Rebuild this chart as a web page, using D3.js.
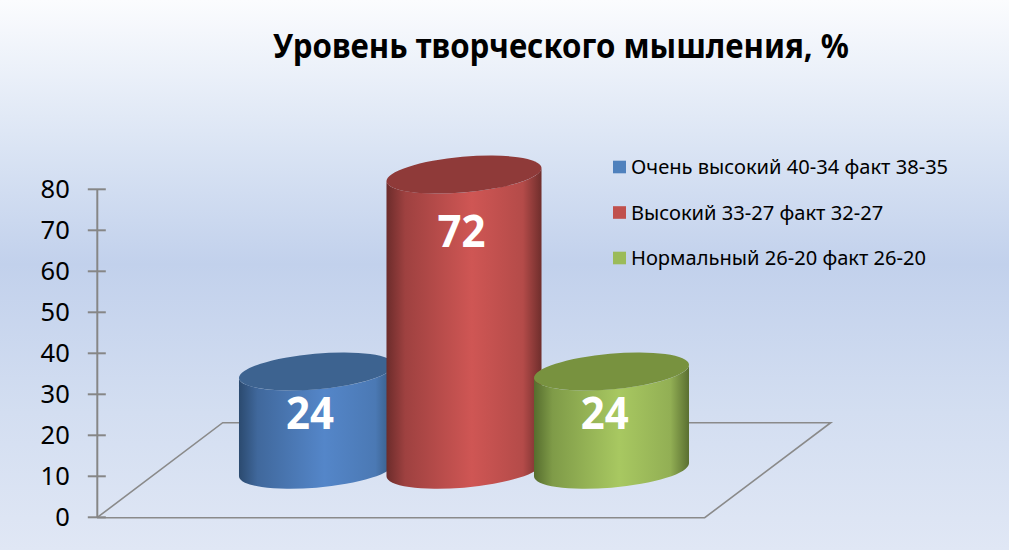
<!DOCTYPE html>
<html><head><meta charset="utf-8">
<script src="https://cdn.jsdelivr.net/npm/d3@7"></script>
<style>html,body{margin:0;padding:0;background:#dfe6f4}svg{display:block}text{font-family:"Noto Sans",sans-serif}</style>
</head><body><svg id="c" width="1009" height="550"></svg>
<script>
const categories=["Очень высокий 40-34 факт 38-35","Высокий 33-27 факт 32-27","Нормальный 26-20 факт 26-20"];
const values=[24,72,24];
const yTicks=[0,10,20,30,40,50,60,70,80];
const title="Уровень творческого мышления, %";
const bodyColors=[["#2b4a6f","#5486c9","#34577f"],["#6c2c2b","#cf5654","#6f2e2c"],["#566d2e","#a8c861","#5a6f31"]];
const topColors=["#3d6390","#8f3a39","#78923f"];
const legendColors=["#4f81bd","#c0504d","#9bbb59"];

const svg=d3.select("#c"),W=1009,H=550;
const defs=svg.append("defs");
const bg=defs.append("linearGradient").attr("id","bg").attr("x1",0).attr("y1",0).attr("x2",0).attr("y2",1);
[[0,"#fbfcfe"],[0.27,"#dae4f4"],[0.48,"#c2d1ec"],[0.75,"#d3def1"],[1,"#e0e7f5"]].forEach(s=>bg.append("stop").attr("offset",s[0]).attr("stop-color",s[1]));
svg.append("rect").attr("width",W).attr("height",H).attr("fill","url(#bg)");

svg.append("text").attr("x",273).attr("y",58).attr("font-size",34).attr("font-weight",700).attr("fill","#000")
  .attr("textLength",576).attr("lengthAdjust","spacingAndGlyphs").text(title);

const y=d3.scaleLinear().domain([0,80]).range([516.8,188.8]);
const x=d3.scalePoint().domain(categories).range([316.5,611.5]);

// floor
const floor=d3.line()([[97,517.7],[222.7,422.7],[830.7,422.7],[704.7,517.7],[97,517.7]]);
svg.append("path").attr("d",floor).attr("fill","none").attr("stroke","#8a8a8a").attr("stroke-width",1.6);

// axis
const axis=svg.append("g").attr("transform","translate(96.8,0)").call(d3.axisLeft(y).tickValues(yTicks).tickSize(0).tickPadding(27).tickSizeOuter(0));
axis.select(".domain").attr("stroke","#868686").attr("stroke-width",2);
axis.selectAll(".tick line").attr("x1",-9).attr("x2",9).attr("stroke","#868686").attr("stroke-width",2);
axis.selectAll(".tick text").attr("font-size",25.5).attr("fill","#000").style("font-family","'Noto Sans',sans-serif").attr("dy","0.36em");

// cylinders
const a=77.8,b=17.8,phi=-5.06,rad=phi*Math.PI/180,baseOffset=47;
const hw=Math.sqrt(a*a*Math.cos(rad)**2+b*b*Math.sin(rad)**2);
const dyEdge=(a*a-b*b)*Math.sin(rad)*Math.cos(rad)/hw;
categories.forEach((c,i)=>{
  const cx=x(c),topY=y(values[i])-baseOffset,botY=y(0)-baseOffset;
  const g=defs.append("linearGradient").attr("id","g"+i).attr("x1",0).attr("x2",1).attr("y1",0).attr("y2",0);
  g.append("stop").attr("offset",0).attr("stop-color",bodyColors[i][0]);
  g.append("stop").attr("offset",0.12).attr("stop-color",d3.interpolateRgb(bodyColors[i][0],bodyColors[i][1])(0.5));
  g.append("stop").attr("offset",0.55).attr("stop-color",bodyColors[i][1]);
  g.append("stop").attr("offset",0.88).attr("stop-color",d3.interpolateRgb(bodyColors[i][2],bodyColors[i][1])(0.72));
  g.append("stop").attr("offset",1).attr("stop-color",bodyColors[i][2]);
  const lx=cx-hw,rx=cx+hw;
  svg.append("path").attr("fill",`url(#g${i})`)
    .attr("d",`M${lx},${topY-dyEdge} L${lx},${botY-dyEdge} A${a},${b} ${phi} 0 0 ${rx},${botY+dyEdge} L${rx},${topY+dyEdge} A${a},${b} ${phi} 0 1 ${lx},${topY-dyEdge}Z`);
  svg.append("ellipse").attr("rx",a).attr("ry",b).attr("fill",topColors[i])
    .attr("transform",`translate(${cx},${topY}) rotate(${phi})`);
});
// data labels
const labelShift=[[-6.5,41],[-2.5,56],[-6.8,41]];
categories.forEach((c,i)=>{
  svg.append("text").attr("x",x(c)+labelShift[i][0]-24).attr("y",y(values[i])-baseOffset+labelShift[i][1]).attr("dy","0.36em")
   .attr("font-size",45).attr("font-weight",700).attr("fill","#fff")
   .attr("textLength",48).attr("lengthAdjust","spacingAndGlyphs").text(values[i]);
});
// legend
const ly=d3.scalePoint().domain(categories).range([167,258]);
const lg=svg.append("g").selectAll("g").data(categories).join("g").attr("transform",d=>`translate(613,${ly(d)})`);
lg.append("rect").attr("x",0).attr("y",-6.3).attr("width",13).attr("height",12.6).attr("fill",(d,i)=>legendColors[i]);
lg.append("text").attr("x",18).attr("dy","0.36em").attr("font-size",20.1).attr("fill","#000").text(d=>d);
</script></body></html>
